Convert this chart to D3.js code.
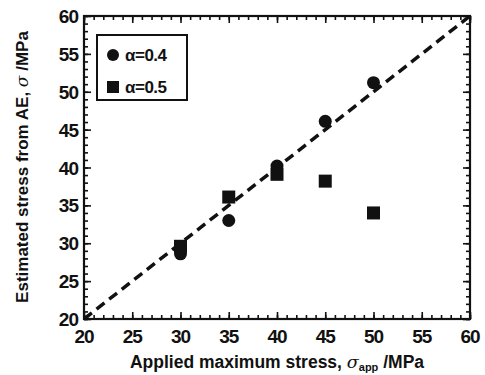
<!DOCTYPE html>
<html><head><meta charset="utf-8">
<script src="https://cdn.jsdelivr.net/npm/d3@7"></script>
<style>
body{margin:0;background:#fff;}
text{font-family:"Liberation Sans",Arial,sans-serif;font-weight:bold;fill:#111;}
</style></head>
<body><svg id="c" width="485" height="375"></svg>
<script>
const xTicks = [20,25,30,35,40,45,50,55,60];
const yTicks = [20,25,30,35,40,45,50,55,60];
const circleX = [30,30,35,40,45,50];
const circleY = [28.6,29.2,33.0,40.2,46.1,51.2];
const squareX = [30,35,40,45,50];
const squareY = [29.6,36.1,39.1,38.2,34.0];
const fitLine = [[20,20],[60,60]];
const legendLabels = ["α=0.4","α=0.5"];

const svg = d3.select("#c");
const L=84,R=470,T=16,B=319;
const x = d3.scaleLinear().domain([20,60]).range([L,R]);
const y = d3.scaleLinear().domain([20,60]).range([B,T]);
const minor = d3.range(20,61,1);

function ticks(axisFn, scale, tr, vals, size){
  const g = svg.append("g").attr("transform",tr)
    .call(axisFn(scale).tickValues(vals).tickSizeInner(size).tickSizeOuter(0).tickFormat(""));
  g.select(".domain").remove();
  g.selectAll("line").attr("stroke","#111").attr("stroke-width",1.6);
}
ticks(d3.axisBottom, x, `translate(0,${B})`, minor, -4);
ticks(d3.axisBottom, x, `translate(0,${B})`, xTicks, -7);
ticks(d3.axisTop, x, `translate(0,${T})`, minor, -4);
ticks(d3.axisTop, x, `translate(0,${T})`, xTicks, -7);
ticks(d3.axisLeft, y, `translate(${L},0)`, minor, -4);
ticks(d3.axisLeft, y, `translate(${L},0)`, yTicks, -7);
ticks(d3.axisRight, y, `translate(${R},0)`, minor, -4);
ticks(d3.axisRight, y, `translate(${R},0)`, yTicks, -7);

svg.append("rect").attr("x",L).attr("y",T).attr("width",R-L).attr("height",B-T)
  .attr("fill","none").attr("stroke","#111").attr("stroke-width",2.2);

svg.append("g").selectAll("text").data(xTicks).join("text")
  .attr("x",d=>x(d)).attr("y",343).attr("text-anchor","middle")
  .attr("font-size",19).attr("letter-spacing",-1).text(d=>d);
svg.append("g").selectAll("text").data(yTicks).join("text")
  .attr("x",78).attr("y",d=>y(d)+7).attr("text-anchor","end")
  .attr("font-size",19).attr("letter-spacing",-1).text(d=>d);

const xl = svg.append("text").attr("x",277).attr("y",368).attr("text-anchor","middle")
  .attr("font-size",17.5);
xl.append("tspan").text("Applied maximum stress, ");
xl.append("tspan").attr("font-style","italic").attr("font-family","'DejaVu Serif',serif").attr("font-weight","normal").text("σ");
xl.append("tspan").attr("font-size",11).attr("dy",3).text("app");
xl.append("tspan").attr("dy",-3).text(" /MPa");

const yl = svg.append("text").attr("transform","translate(28,167) rotate(-90)")
  .attr("text-anchor","middle").attr("font-size",17);
yl.append("tspan").text("Estimated stress from AE, ");
yl.append("tspan").attr("font-style","italic").attr("font-family","'DejaVu Serif',serif").attr("font-weight","normal").text("σ");
yl.append("tspan").text(" /MPa");

svg.append("path").attr("d",d3.line().x(d=>x(d[0])).y(d=>y(d[1]))(fitLine))
  .attr("fill","none").attr("stroke","#111").attr("stroke-width",3.5)
  .attr("stroke-dasharray","10,6");

const sq=13;
svg.append("g").selectAll("rect").data(squareX.map((v,i)=>[v,squareY[i]])).join("rect")
  .attr("x",d=>x(d[0])-sq/2).attr("y",d=>y(d[1])-sq/2).attr("width",sq).attr("height",sq)
  .attr("fill","#111");
svg.append("g").selectAll("circle").data(circleX.map((v,i)=>[v,circleY[i]])).join("circle")
  .attr("cx",d=>x(d[0])).attr("cy",d=>y(d[1])).attr("r",6.5).attr("fill","#111");

svg.append("rect").attr("x",97).attr("y",35).attr("width",90).attr("height",65)
  .attr("fill","#fff").attr("stroke","#111").attr("stroke-width",2);
svg.append("circle").attr("cx",113).attr("cy",55).attr("r",6).attr("fill","#111");
svg.append("rect").attr("x",107).attr("y",81).attr("width",12).attr("height",12).attr("fill","#111");
svg.append("g").selectAll("text").data(legendLabels).join("text")
  .attr("x",125).attr("y",(d,i)=>61+i*32).attr("font-size",17).attr("letter-spacing",-0.5).text(d=>d);
</script></body></html>
